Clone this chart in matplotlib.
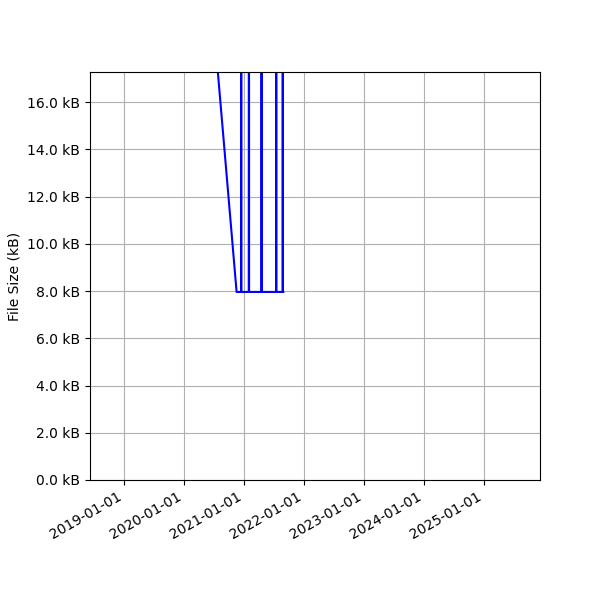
import numpy as np
import pandas as pd
import matplotlib
matplotlib.use("Agg")
import matplotlib.pyplot as plt
import matplotlib.dates as mdates
from matplotlib.ticker import FuncFormatter

# commit dates and file size in bytes
dates = ["2020-06-08", "2020-11-18",
         "2020-12-15", "2020-12-16", "2020-12-17",
         "2021-01-31", "2021-02-01", "2021-02-02",
         "2021-04-18", "2021-04-19", "2021-04-20",
         "2021-07-16", "2021-07-17", "2021-07-18",
         "2021-08-25", "2021-08-26", "2021-08-27",
         "2021-08-29"]
sizes = [21250, 7960,
         7960, 40000, 7960,
         7960, 40000, 7960,
         7960, 40000, 7960,
         7960, 40000, 7960,
         7960, 40000, 7960,
         7960]

x = pd.to_datetime(dates)
y = np.array(sizes)

fig, ax = plt.subplots(figsize=(6, 6), dpi=100)
ax.plot(x, y, c='b')
ax.set_ylabel('File Size (kB)')
ax.yaxis.set_major_formatter(FuncFormatter(lambda v, p: "%.1f kB" % (v / 1000)))
ax.set_ylim(0, 17270)
ax.set_xlim(pd.Timestamp("2018-06-10"), pd.Timestamp("2025-12-08"))
ax.xaxis.set_major_locator(mdates.YearLocator())
ax.xaxis.set_major_formatter(mdates.DateFormatter("%Y-%m-%d"))
ax.grid(True)
fig.autofmt_xdate()
fig.subplots_adjust(left=0.15, right=0.9, top=0.88, bottom=0.2)
fig.savefig("out.png")
